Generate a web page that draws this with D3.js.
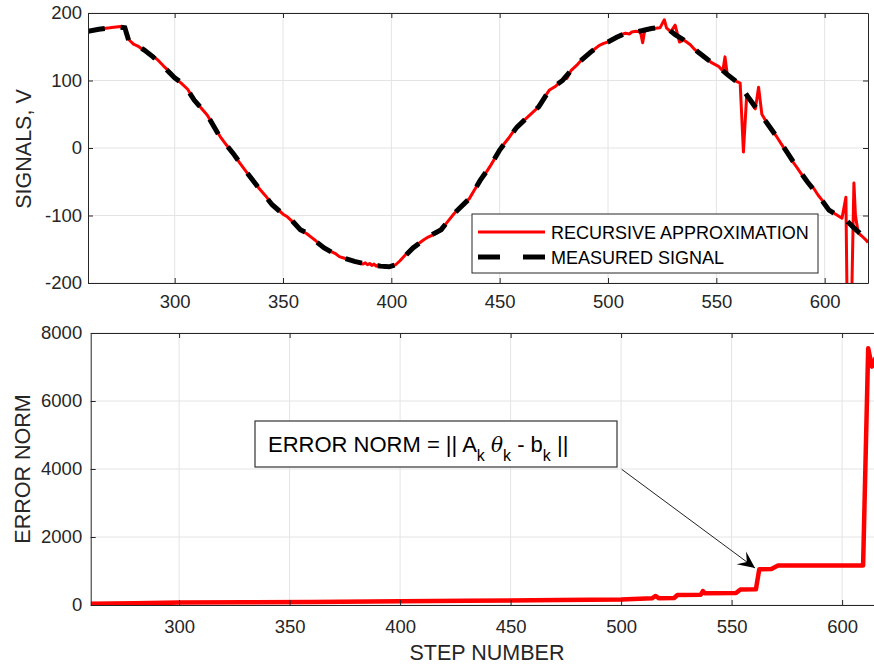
<!DOCTYPE html>
<html>
<head>
<meta charset="utf-8">
<script src="https://cdn.jsdelivr.net/npm/d3@7"></script>
<style>
  body { margin: 0; background: #fff; }
  svg { display: block; font-family: "Liberation Sans", Arial, sans-serif; }
</style>
</head>
<body>
<svg id="chart" width="874" height="667"></svg>
<script>
// measured signal (black dashed)
var measSteps = [260,265,270,275,277,279,283,286,290,295,300,303,306,309,315,321,327,333,339,345,350,354,358,361,365,369,374,378,383,387,391,395,399,402,404,406,410,415,419,423,429,436,441,446,450,454,458,463,468,473,479,483,488,492,496,500,504,508,513,516,520,525,527,531,535,538,542,546,551,555,559,562,565,570,574,578,583,587,592,597,602,606,610,614,617,620];
var measVals  = [173,176,178,179,178,157,151,145,135,120,104,97,86,71,49,16,-8,-35,-60,-84,-98,-107,-121,-126,-138,-148,-157,-163,-168,-171,-173,-175,-176,-173,-168,-161,-148,-136,-128,-121,-97,-75,-48,-25,-3,14,31,46,61,86,100,115,131,142,152,157,164,170,172,174,177,179,178,168,160,152,141,131,120,109,99,88,74,52,34,16,-8,-28,-50,-70,-92,-100,-107,-120,-128,-137];

// recursive approximation (red)
var recSteps = [260,265,270,272,275,277,279,281,283,286,288,290,292,295,298,300,303,306,309,312,315,318,321,324,327,330,333,336,339,342,345,348,350,352,354,356,358,361,363,365,367,369,372,374,376,378,381,383,385,387,388,389,390,391,392,393,394,395,396,397,399,402,404,406,408,410,412,415,417,419,421,423,426,429,432,436,438,441,444,446,448,450,452,454,456,458,460,463,465,468,470,473,476,479,480,481,483,486,488,490,492,494,496,498,500,502,504,506,508,510,511,513,515,516,517,519,521,524,526,527,529,531,533,535,538,540,542,544,546,548,551,553,554,555,557,559,561,562.5,564,566,568,569.5,571,574,576,578,581,583,585,587,590,592,595,597,600,602,604,606,608,609.8,610.6,612,613.5,614.2,615.5,617,619,620];
var recVals  = [173,176,178,179,180,178,160,154,151,144,140,136,131,121,112,104,96,87,71,60,49,33,17,4,-8,-22,-35,-47,-60,-71,-84,-92,-98,-102,-108,-114,-121,-127,-132,-137,-143,-148,-153,-156,-161,-163,-166,-168,-170,-172,-170,-173,-171,-174,-172,-175,-173,-176,-174,-177,-176,-173,-167,-160,-153,-147,-143,-136,-132,-129,-126,-121,-109,-97,-87,-75,-64,-48,-35,-25,-14,-3,6,14,23,31,37,46,52,61,72,86,92,101,104,103,115,124,131,136,142,147,152,155,157,161,164,168,170,169,172,173,172,156,175,176,177,178,190,178,172,182,157,160,153,146,141,135,131,126,121,114,135,110,104,99,96,-6,78,68,58,90,50,34,25,16,1,-8,-19,-28,-42,-51,-60,-70,-82,-92,-96,-100,-104,-73,-300,-300,-52,-100,-126,-130,-136,-140];

// error norm (bottom)
var errSteps = [260,280,300,330,360,400,430,472,500,514,515.5,517,524,525.5,536,537,538,552,554,561,562.5,568,571,590,609.5,611.8,613.5,615,617];
var errVals  = [35,50,70,80,90,110,125,147,160,196,265,200,205,294,300,410,343,350,455,460,1050,1060,1160,1165,1165,7550,7010,7250,6800];

var xTicks = [300,350,400,450,500,550,600];
var yTopTicks = [-200,-100,0,100,200];
var yBotTicks = [0,2000,4000,6000,8000];

var svg = d3.select('#chart');
svg.append('rect').attr('width',874).attr('height',667).attr('fill','#fff');

var axisColor = '#262626';
var plain = function(d){ return String(d); };

function panel(opts) {
    var x = opts.x, y = opts.y;
    var x0 = x.range()[0], x1 = x.range()[1];
    var y0 = y.range()[0], y1 = y.range()[1];
    var g = svg.append('g');

    // grid
    g.selectAll('.gx').data(xTicks).enter().append('line')
        .attr('x1', function(d){ return x(d); }).attr('x2', function(d){ return x(d); })
        .attr('y1', y0).attr('y2', y1)
        .attr('stroke', '#e4e4e4').attr('stroke-width', 1);
    g.selectAll('.gy').data(opts.yTicks).enter().append('line')
        .attr('x1', x0).attr('x2', x1)
        .attr('y1', function(d){ return y(d); }).attr('y2', function(d){ return y(d); })
        .attr('stroke', '#e4e4e4').attr('stroke-width', 1);

    var clipId = 'clip' + opts.id;
    svg.append('clipPath').attr('id', clipId).append('rect')
        .attr('x', x0).attr('y', y1).attr('width', x1 - x0).attr('height', y0 - y1);
    var plot = g.append('g').attr('clip-path', 'url(#' + clipId + ')');

    // axes
    var bottom = g.append('g').attr('transform', 'translate(0,' + y0 + ')')
        .call(d3.axisBottom(x).tickValues(xTicks).tickSizeInner(-5).tickSizeOuter(0).tickPadding(opts.xPad).tickFormat(plain));
    var top = g.append('g').attr('transform', 'translate(0,' + y1 + ')')
        .call(d3.axisTop(x).tickValues(xTicks).tickSizeInner(-5).tickSizeOuter(0).tickFormat(''));
    var left = g.append('g').attr('transform', 'translate(' + x0 + ',0)')
        .call(d3.axisLeft(y).tickValues(opts.yTicks).tickSizeInner(-5).tickSizeOuter(0).tickPadding(opts.yPad).tickFormat(plain));
    var right = g.append('g').attr('transform', 'translate(' + x1 + ',0)')
        .call(d3.axisRight(y).tickValues(opts.yTicks).tickSizeInner(-5).tickSizeOuter(0).tickFormat(''));
    [bottom, top, left, right].forEach(function(a) {
        a.select('.domain').attr('stroke', axisColor).attr('stroke-width', 1);
        a.selectAll('.tick line').attr('stroke', axisColor);
        a.selectAll('.tick text').attr('fill', axisColor).style('font-size', '18.5px')
            .style('font-family', '"Liberation Sans", Arial, sans-serif');
    });
    return plot;
}

// ---- top panel
var xT = d3.scaleLinear().domain([260, 620]).range([88, 868]);
var yT = d3.scaleLinear().domain([-200, 200]).range([283, 13]);
var plotT = panel({ id: 'T', x: xT, y: yT, yTicks: yTopTicks, xPad: 12, yPad: 6 });

var lineT = d3.line().x(function(d){ return xT(d[0]); }).y(function(d){ return yT(d[1]); });
plotT.append('path').datum(d3.zip(recSteps, recVals)).attr('d', lineT)
    .attr('fill', 'none').attr('stroke', '#ff0000').attr('stroke-width', 3).attr('stroke-linejoin', 'round');
plotT.append('path').datum(d3.zip(measSteps, measVals)).attr('d', lineT)
    .attr('fill', 'none').attr('stroke', '#000').attr('stroke-width', 5).attr('stroke-dasharray', '17,16');

// legend
var lg = svg.append('g');
lg.append('rect').attr('x', 472).attr('y', 214).attr('width', 346).attr('height', 59)
    .attr('fill', '#fff').attr('stroke', axisColor).attr('stroke-width', 1);
lg.append('line').attr('x1', 478).attr('x2', 545).attr('y1', 232).attr('y2', 232)
    .attr('stroke', '#ff0000').attr('stroke-width', 3);
lg.append('line').attr('x1', 478).attr('x2', 545).attr('y1', 257).attr('y2', 257)
    .attr('stroke', '#000').attr('stroke-width', 5).attr('stroke-dasharray', '22,23');
lg.append('text').attr('x', 551).attr('y', 238.5).text('RECURSIVE APPROXIMATION')
    .style('font-size', '18px').attr('fill', '#000');
lg.append('text').attr('x', 551).attr('y', 263.5).text('MEASURED SIGNAL')
    .style('font-size', '18px').attr('fill', '#000');

svg.append('text').attr('transform', 'translate(31,149) rotate(-90)').attr('text-anchor', 'middle')
    .style('font-size', '21.5px').attr('fill', axisColor).text('SIGNALS, V');

// ---- bottom panel
var xB = d3.scaleLinear().domain([260, 620]).range([90.7, 886.3]);
var yB = d3.scaleLinear().domain([0, 8000]).range([605, 333]);
var plotB = panel({ id: 'B', x: xB, y: yB, yTicks: yBotTicks, xPad: 15, yPad: 8.5 });

var lineB = d3.line().x(function(d){ return xB(d[0]); }).y(function(d){ return yB(d[1]); });
plotB.append('path').datum(d3.zip(errSteps, errVals)).attr('d', lineB)
    .attr('fill', 'none').attr('stroke', '#ff0000').attr('stroke-width', 4.5).attr('stroke-linejoin', 'round');

svg.append('text').attr('transform', 'translate(30,469) rotate(-90)').attr('text-anchor', 'middle')
    .style('font-size', '21.5px').attr('fill', axisColor).text('ERROR NORM');
svg.append('text').attr('x', 487).attr('y', 660).attr('text-anchor', 'middle')
    .style('font-size', '21.5px').attr('fill', axisColor).text('STEP NUMBER');

// annotation
var an = svg.append('g');
an.append('rect').attr('x', 255).attr('y', 421).attr('width', 362).attr('height', 46)
    .attr('fill', '#fff').attr('stroke', '#333').attr('stroke-width', 1.2);
var t = an.append('text').attr('x', 268).attr('y', 452).style('font-size', '22px').attr('fill', '#000');
t.append('tspan').text('ERROR NORM = || A');
t.append('tspan').attr('dy', 9).style('font-size', '16px').text('k');
t.append('tspan').attr('dy', -9).text(' ');
t.append('tspan').style('font-style', 'italic').style('font-family', '"DejaVu Serif", serif').style('font-size', '20px').text('θ');
t.append('tspan').attr('dy', 9).style('font-size', '16px').text('k');
t.append('tspan').attr('dy', -9).text(' - b');
t.append('tspan').attr('dy', 9).style('font-size', '16px').text('k');
t.append('tspan').attr('dy', -9).text(' ||');

var ax0 = 621.7, ay0 = 469.3, ax1 = 755, ay1 = 568;
an.append('line').attr('x1', ax0).attr('y1', ay0).attr('x2', ax1).attr('y2', ay1)
    .attr('stroke', '#222').attr('stroke-width', 1);
var len = Math.hypot(ax1 - ax0, ay1 - ay0), ux = (ax1 - ax0) / len, uy = (ay1 - ay0) / len;
var L = 17, W = 8;
var head = [
    [ax1, ay1],
    [ax1 - L * ux - W * uy, ay1 - L * uy + W * ux],
    [ax1 - 0.6 * L * ux, ay1 - 0.6 * L * uy],
    [ax1 - L * ux + W * uy, ay1 - L * uy - W * ux]
];
an.append('path').attr('d', d3.line()(head) + 'Z').attr('fill', '#000');
</script>
</body>
</html>
